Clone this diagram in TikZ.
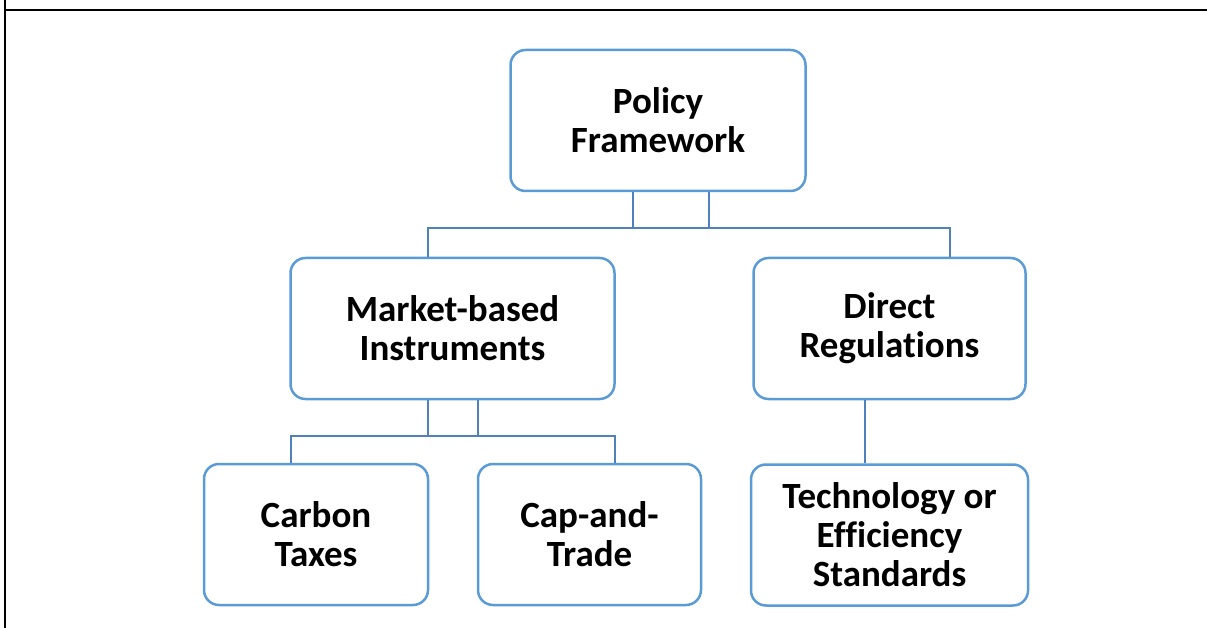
\documentclass[tikz,border=0pt]{standalone}
\usepackage{fontspec}
\setmainfont{Carlito}[Ligatures=NoCommon]
\usetikzlibrary{calc}
\definecolor{boxblue}{HTML}{5B9BD5}
\definecolor{connblue}{HTML}{4F81BD}
\tikzset{
  box/.style={draw=boxblue, line width=2.5pt, rounded corners=15pt, fill=white,
    align=center, inner sep=0pt,
    font=\fontsize{37}{39}\selectfont\bfseries},
  conn/.style={draw=connblue, line width=2.3pt},
  frame/.style={draw=black, line width=1.5pt}
}
\begin{document}
\begin{tikzpicture}[x=1pt,y=-1pt]
\useasboundingbox (0,0) rectangle (1207,628);
% table frame
\coordinate (fl0) at (5,0);
\coordinate (fl1) at (5,628);
\coordinate (ft0) at (5,10);
\coordinate (ft1) at (1207,10);
\draw[frame] (fl0) -- (fl1);
\draw[frame] (ft0) -- (ft1);
% boxes
\node[box, minimum width=295pt, minimum height=141pt] (pf) at (658,120.5) {Policy\\Framework};
\node[box, minimum width=324pt, minimum height=141pt] (mbi) at (452.5,328.5) {Market-based\\Instruments};
\node[box, minimum width=272pt, minimum height=141pt] (dr) at (889.5,328.5) {Direct\\Regulations};
\node[box, minimum width=224pt, minimum height=141pt] (ct) at (316,534.5) {Carbon\\Taxes};
\node[box, minimum width=223pt, minimum height=141pt] (cat) at (589.5,534.5) {Cap-and-\\Trade};
\node[box, minimum width=277pt, minimum height=141pt] (tes) at (889.5,535) {Technology or\\Efficiency\\Standards};
% level 1 connectors
\coordinate (a1) at (633,228);
\coordinate (a2) at (709,228);
\coordinate (b1) at (428,228);
\coordinate (b2) at (950,228);
\draw[conn] (a1 |- pf.south) -- (a1) -- (a2) -- (a2 |- pf.south);
\draw[conn] (b1 |- mbi.north) -- (b1) -- (b2) -- (b2 |- dr.north);
% level 2 connectors
\coordinate (c1) at (428,436);
\coordinate (c2) at (478,436);
\coordinate (d1) at (291,436);
\coordinate (d2) at (615,436);
\draw[conn] (c1 |- mbi.south) -- (c1) -- (c2) -- (c2 |- mbi.south);
\draw[conn] (d1 |- ct.north) -- (d1) -- (d2) -- (d2 |- cat.north);
\coordinate (e1) at (865,0);
\draw[conn] (e1 |- dr.south) -- (e1 |- tes.north);
\end{tikzpicture}
\end{document}
